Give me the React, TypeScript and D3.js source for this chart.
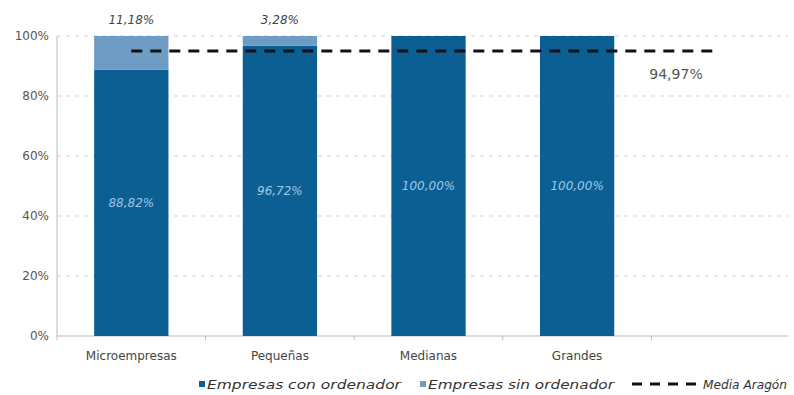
import React from "react";
import * as d3 from "d3";

const categories = ["Microempresas", "Pequeñas", "Medianas", "Grandes", ""];
const conOrdenador = [88.82, 96.72, 100, 100];
const sinOrdenador = [11.18, 3.28, 0, 0];
const conLabels = ["88,82%", "96,72%", "100,00%", "100,00%"];
const sinLabels = ["11,18%", "3,28%", "", ""];
const mediaAragon = 94.97;
const mediaLabel = "94,97%";
const yTicks = [0, 20, 40, 60, 80, 100];

const W = 794;
const H = 395;
const left = 57;
const right = 800;
const top = 36;
const bottom = 336;
const DARK = "#0b5f93";
const LIGHT = "#6f9cc4";
const FONT = "'DejaVu Sans', sans-serif";

export default function App() {
  const x = d3.scaleBand<string>().domain(categories).range([left, right]).paddingInner(0.5).paddingOuter(0.25);
  const y = d3.scaleLinear().domain([0, 100]).range([bottom, top]);
  const bw = x.bandwidth();
  const step = x.step();
  return (
    <svg width={W} height={H} style={{ position: "absolute", left: 0, top: 0, background: "#fff" }} fontFamily={FONT}>
      {yTicks.map((t) => (
        <g key={t}>
          {t > 0 && (
            <line x1={left} x2={788} y1={y(t)} y2={y(t)} stroke="#cfcfcf" strokeWidth={1} strokeDasharray="4,5" />
          )}
          <text x={left - 8} y={y(t)} dy="0.35em" textAnchor="end" fontSize={12} fill="#555">
            {t}%
          </text>
        </g>
      ))}
      <line x1={left} x2={left} y1={top} y2={bottom} stroke="#bbb" />
      <line x1={left} x2={788} y1={bottom} y2={bottom} stroke="#bbb" />
      {categories.map((c, i) => (
        <line key={"tk" + i} x1={left + step * i} x2={left + step * i} y1={bottom} y2={bottom + 4} stroke="#bbb" />
      ))}
      {categories.slice(0, 4).map((c, i) => {
        const x0 = x(c)!;
        return (
          <g key={c}>
            <rect x={x0} y={y(conOrdenador[i])} width={bw} height={bottom - y(conOrdenador[i])} fill={DARK} />
            {sinOrdenador[i] > 0 && (
              <rect
                x={x0}
                y={y(conOrdenador[i] + sinOrdenador[i])}
                width={bw}
                height={y(conOrdenador[i]) - y(conOrdenador[i] + sinOrdenador[i])}
                fill={LIGHT}
              />
            )}
            <text
              x={x0 + bw / 2}
              y={(y(conOrdenador[i]) + bottom) / 2}
              dy="0.35em"
              textAnchor="middle"
              fontSize={12}
              fontStyle="italic"
              fill="#9fc6ea"
            >
              {conLabels[i]}
            </text>
            {sinLabels[i] && (
              <text x={x0 + bw / 2} y={20} dy="0.35em" textAnchor="middle" fontSize={12} fontStyle="italic" fill="#444">
                {sinLabels[i]}
              </text>
            )}
            <text x={x0 + bw / 2} y={356} dy="0.35em" textAnchor="middle" fontSize={12} fill="#444">
              {c}
            </text>
          </g>
        );
      })}
      <line
        x1={x(categories[0])! + bw / 2}
        x2={716}
        y1={y(mediaAragon)}
        y2={y(mediaAragon)}
        stroke="#111"
        strokeWidth={3}
        strokeDasharray="11,8"
      />
      <text x={676} y={74} dy="0.35em" textAnchor="middle" fontSize={14} fill="#555">
        {mediaLabel}
      </text>
      <g fontSize={13} fontStyle="italic" fill="#333">
        <rect x={199} y={381} width={6} height={6} fill={DARK} />
        <text x={207} y={384} dy="0.35em" textLength={194} lengthAdjust="spacingAndGlyphs">Empresas con ordenador</text>
        <rect x={420} y={381} width={6} height={6} fill={LIGHT} />
        <text x={428} y={384} dy="0.35em" textLength={186} lengthAdjust="spacingAndGlyphs">Empresas sin ordenador</text>
        <line x1={632} x2={700} y1={384} y2={384} stroke="#111" strokeWidth={3} strokeDasharray="10,8" />
        <text x={703} y={384} dy="0.35em" textLength={84} lengthAdjust="spacingAndGlyphs">Media Aragón</text>
      </g>
    </svg>
  );
}
